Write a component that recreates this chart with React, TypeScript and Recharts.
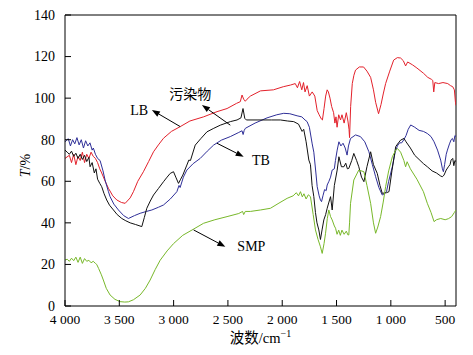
import { LineChart, Line, XAxis, YAxis, ReferenceLine, ReferenceDot } from 'recharts';

type Pt = [number, number];

// wavenumber (cm-1), transmittance (%)
const LB: Pt[] = [
  [4000, 71], [3960, 72.5], [3940, 69], [3920, 73], [3900, 68], [3880, 72], [3860, 70], [3840, 74],
  [3820, 69], [3800, 73], [3780, 71], [3760, 74], [3740, 72], [3720, 71], [3700, 69], [3680, 66],
  [3662, 64], [3630, 60], [3600, 56.6], [3560, 53], [3523, 51], [3480, 49.8], [3446, 49.4], [3400, 52],
  [3370, 55], [3330, 60], [3278, 64.6], [3230, 69.5], [3185, 74.2], [3140, 77.5], [3093, 80.7], [3020, 84],
  [2939, 86.3], [2850, 89], [2724, 91], [2600, 93.5], [2508, 95], [2420, 97.5], [2386, 98.3], [2370, 101.5],
  [2355, 99.5], [2340, 98.5], [2324, 99.5], [2293, 101], [2200, 103.5], [2081, 104], [1990, 105.5],
  [1924, 106.3], [1880, 107], [1860, 105], [1840, 108], [1820, 104], [1804, 107.5], [1790, 103], [1770, 106],
  [1750, 101], [1724, 103], [1700, 101], [1678, 94], [1660, 92], [1640, 90], [1630, 89.5], [1615, 95],
  [1600, 101], [1586, 104], [1575, 103], [1560, 100], [1545, 96], [1527, 93], [1515, 88], [1505, 91],
  [1495, 86], [1480, 92], [1463, 89.5], [1450, 92], [1430, 88], [1410, 93], [1395, 89], [1385, 85],
  [1380, 81], [1370, 96], [1355, 107], [1340, 111], [1325, 113.5], [1290, 115], [1251, 115], [1220, 113],
  [1186, 110], [1160, 104], [1140, 98], [1113, 92.5], [1090, 97], [1070, 102], [1048, 107], [1010, 113],
  [974, 118.3], [940, 119.5], [910, 119.3], [885, 118], [864, 115.5], [845, 117.4], [800, 116], [760, 114.5],
  [700, 112], [660, 110], [625, 109], [614, 108.5], [605, 103], [595, 107.5], [560, 107], [520, 107.5],
  [476, 107], [450, 106], [430, 105.5], [415, 104], [405, 98], [400, 96.5],
];

const TB: Pt[] = [
  [4000, 79], [3970, 80.5], [3950, 77], [3930, 80], [3910, 78], [3890, 81], [3870, 77.5], [3850, 80],
  [3830, 76], [3810, 79.5], [3790, 77], [3770, 78.5], [3750, 75], [3739, 76], [3720, 73], [3700, 71],
  [3677, 70], [3650, 65], [3631, 60.6], [3600, 55], [3585, 52.6], [3550, 49], [3508, 46.2], [3460, 43.5],
  [3416, 42.1], [3360, 43.5], [3308, 44.6], [3250, 45.5], [3200, 46.2], [3140, 47.5], [3093, 48.6],
  [3030, 51.5], [2970, 55], [2950, 58], [2940, 57], [2910, 62], [2878, 65.4], [2820, 68.5], [2755, 71],
  [2690, 74.5], [2632, 77.4], [2560, 79.8], [2478, 81.5], [2400, 83.5], [2370, 84.3], [2360, 82.5],
  [2350, 84.5], [2339, 85.5], [2250, 88], [2140, 90.5], [2050, 92], [1986, 92.7], [1930, 92.5], [1863, 91.5],
  [1820, 91], [1790, 89.5], [1771, 88.7], [1750, 86], [1724, 78], [1709, 74], [1690, 64], [1678, 57.4],
  [1660, 53], [1648, 51], [1638, 50.2], [1625, 53], [1610, 56], [1595, 55.5], [1586, 58.2], [1570, 60],
  [1555, 62], [1540, 65.4], [1520, 66], [1510, 70], [1494, 75], [1478, 79], [1460, 77], [1440, 78.3],
  [1420, 76], [1403, 72.6], [1390, 77], [1371, 80.6], [1325, 82.3], [1280, 81.5], [1240, 79], [1202, 74.2],
  [1170, 68], [1140, 62.2], [1110, 57], [1079, 53.4], [1060, 54], [1040, 55], [1020, 60], [986, 67],
  [960, 74], [940, 77], [920, 78.5], [900, 78.5], [880, 80], [860, 82], [840, 85], [817, 87.1], [780, 86],
  [740, 84.5], [700, 84], [664, 83], [630, 81.5], [602, 79], [570, 75], [541, 70.2], [525, 66], [516, 64.6],
  [505, 68], [490, 73], [479, 75], [460, 78], [445, 80], [433, 80.6], [420, 79], [410, 82], [400, 81.5],
];

const POLLUTANT: Pt[] = [
  [4000, 75], [3980, 74], [3960, 73], [3940, 74.5], [3920, 72], [3900, 73.5], [3880, 71], [3860, 73],
  [3840, 70.5], [3820, 72.5], [3800, 69.5], [3780, 71.5], [3769, 67], [3750, 69], [3730, 64], [3715, 66],
  [3700, 61], [3680, 59], [3662, 57.4], [3640, 54], [3616, 51], [3590, 48.5], [3554, 46.2], [3520, 44],
  [3477, 42.1], [3440, 41], [3400, 40], [3350, 39.2], [3293, 38.2], [3270, 42.5], [3247, 47], [3215, 50.5],
  [3185, 53.4], [3140, 56.5], [3093, 59.8], [3060, 62], [3031, 63.8], [3001, 64.6], [2980, 62], [2955, 59],
  [2935, 61], [2915, 63], [2878, 67.8], [2860, 70.2], [2845, 70], [2801, 77.4], [2750, 80.5], [2693, 83.8],
  [2630, 85.5], [2570, 87], [2478, 88.7], [2416, 89.5], [2380, 90.5], [2361, 95], [2345, 90.3], [2330, 89.5],
  [2232, 89.5], [2100, 89.5], [2017, 89.5], [1950, 89], [1894, 88.7], [1850, 87.5], [1817, 84], [1802, 85],
  [1780, 79], [1755, 70.2], [1740, 68], [1725, 58], [1709, 52.6], [1694, 45], [1680, 40], [1663, 36.6],
  [1648, 32], [1632, 37], [1617, 41.4], [1600, 44], [1586, 47], [1570, 50], [1555, 52.6], [1540, 46.2],
  [1520, 58], [1494, 65.4], [1478, 71.8], [1455, 67], [1432, 67], [1415, 68.7], [1400, 66], [1387, 66.2],
  [1360, 70], [1341, 73.4], [1315, 70], [1295, 67], [1270, 62], [1248, 59.8], [1220, 67], [1186, 74.2],
  [1160, 68], [1125, 63.8], [1100, 58], [1079, 54.2], [1040, 54.5], [1017, 55], [990, 65], [955, 76.7],
  [930, 78.5], [910, 79.8], [879, 80.6], [860, 79], [820, 76], [780, 72.5], [740, 70.5], [700, 68.5],
  [664, 67], [620, 65], [580, 64], [540, 62.5], [525, 62.2], [510, 63], [490, 65.4], [470, 67], [455, 68],
  [445, 70.2], [430, 71], [420, 67.5], [410, 70], [400, 69.5],
];

const SMP: Pt[] = [
  [4000, 22.1], [3980, 22.5], [3960, 21.5], [3940, 23], [3920, 21.8], [3900, 23.5], [3880, 21], [3860, 23.5],
  [3840, 20.5], [3820, 22.8], [3800, 21.5], [3780, 22], [3760, 20.8], [3740, 21.5], [3720, 20.5], [3708, 20],
  [3690, 18], [3665, 15], [3647, 12.5], [3620, 8.5], [3585, 5.3], [3540, 3.2], [3493, 2.1], [3450, 1.9],
  [3416, 2], [3370, 3], [3308, 5.3], [3260, 8.5], [3216, 12.5], [3170, 17.5], [3124, 22], [3060, 26.5],
  [3001, 30], [2916, 34], [2816, 37], [2724, 39.8], [2620, 41.5], [2508, 43], [2400, 44.5], [2365, 45.5],
  [2355, 44], [2340, 45.5], [2293, 45.5], [2200, 46.2], [2109, 47], [2030, 49.5], [1955, 51.8], [1900, 53],
  [1870, 54.5], [1850, 53], [1832, 55], [1815, 52.5], [1800, 54], [1780, 51.5], [1760, 53.5], [1740, 52.6],
  [1715, 44], [1694, 36.6], [1670, 32], [1648, 28.5], [1632, 25.3], [1615, 30], [1601, 35], [1585, 42],
  [1571, 46.2], [1555, 43], [1540, 41.4], [1520, 38.5], [1509, 37.4], [1495, 34.5], [1480, 36.5], [1465, 34],
  [1450, 36.5], [1430, 34.5], [1410, 36], [1395, 34.2], [1387, 34.2], [1380, 40], [1371, 49.4], [1341, 60.6],
  [1295, 65.4], [1248, 64.6], [1220, 58], [1186, 49.4], [1160, 40], [1140, 35], [1120, 38], [1094, 43],
  [1070, 50], [1048, 57.4], [1020, 65], [986, 71.8], [955, 75], [940, 75.8], [910, 74], [880, 70], [864, 67],
  [850, 69.4], [820, 66], [760, 61], [700, 55], [664, 49.4], [630, 45], [602, 40.6], [580, 41.5], [541, 42.1],
  [500, 41.5], [470, 42], [440, 43], [415, 45], [400, 46.2],
];

const X_TICKS = [4000, 3500, 3000, 2500, 2000, 1500, 1000, 500];
const Y_TICKS = [0, 20, 40, 60, 80, 100, 120, 140];

const SERIF = '"Liberation Serif", "Times New Roman", "Noto Sans CJK SC", serif';

const series = [
  { name: 'LB', pts: LB, color: '#e3212b' },
  { name: 'TB', pts: TB, color: '#2f2f98' },
  { name: '污染物', pts: POLLUTANT, color: '#111111' },
  { name: 'SMP', pts: SMP, color: '#78b82a' },
];

// arrows from curve (tail) to label (head), in data coords
const arrows = [
  { from: { x: 2939, y: 86.3 }, to: { x: 3200, y: 94.3 } },
  { from: { x: 2478, y: 87 }, to: { x: 2739, y: 96.7 } },
  { from: { x: 2601, y: 78.3 }, to: { x: 2355, y: 71.8 } },
  { from: { x: 2816, y: 36.6 }, to: { x: 2524, y: 28.5 } },
];

const labels = [
  { text: 'LB', x: 3400, y: 92, anchor: 'start' },
  { text: '污染物', x: 2847, y: 99.6, anchor: 'middle' },
  { text: 'TB', x: 2278, y: 67.8, anchor: 'start' },
  { text: 'SMP', x: 2413, y: 26.5, anchor: 'start' },
];

const fmt = (n: number) =>
  n >= 1000 ? `${Math.floor(n / 1000)}\u2005${String(n % 1000).padStart(3, '0')}` : String(n);

function XTick({ x, y, payload }: any) {
  return (
    <g>
      <line x1={x} y1={y} x2={x} y2={y - 6} stroke="#000" />
      <text x={x} y={y + 18} textAnchor="middle" fontSize={13.5} fontFamily={SERIF} fill="#000">
        {fmt(payload.value)}
      </text>
    </g>
  );
}

function YTick({ x, y, payload }: any) {
  return (
    <g>
      <line x1={x} y1={y} x2={x + 6} y2={y} stroke="#000" />
      <text x={x - 10} y={y} dy="0.35em" textAnchor="end" fontSize={14} fontFamily={SERIF} fill="#000">
        {payload.value}
      </text>
    </g>
  );
}

function YTitle({ viewBox }: any) {
  const cx = viewBox.x + 25;
  const cy = viewBox.y + viewBox.height / 2 + 5;
  return (
    <text x={cx} y={cy} transform={`rotate(-90 ${cx} ${cy})`} textAnchor="middle" dy="0.35em"
      fontSize={14} fontFamily={SERIF} fill="#000">
      <tspan fontStyle="italic">T</tspan>/%
    </text>
  );
}

function XTitle({ viewBox }: any) {
  const cx = viewBox.x + viewBox.width / 2;
  const cy = viewBox.y + 37;
  return (
    <text x={cx} y={cy} textAnchor="middle" fontSize={14.5} fontFamily={SERIF} fill="#000">
      波数/cm<tspan dy={-6} fontSize={10}>−1</tspan>
    </text>
  );
}

function Arrow({ x1, y1, x2, y2 }: any) {
  const ang = Math.atan2(y2 - y1, x2 - x1);
  const len = 8;
  const w = 3;
  const bx = x2 - len * Math.cos(ang);
  const by = y2 - len * Math.sin(ang);
  const px = -Math.sin(ang) * w;
  const py = Math.cos(ang) * w;
  return (
    <g>
      <line x1={x1} y1={y1} x2={bx} y2={by} stroke="#000" strokeWidth={1} />
      <polygon points={`${x2},${y2} ${bx + px},${by + py} ${bx - px},${by - py}`} fill="#000" />
    </g>
  );
}

export default function App() {
  return (
    <div style={{ position: 'absolute', left: 0, top: 0, background: '#fff' }}>
      <LineChart width={473} height={355} margin={{ top: 15, right: 17, left: 0, bottom: 0 }}>
        <XAxis
          type="number"
          dataKey="x"
          domain={[400, 4000]}
          reversed
          allowDataOverflow
          ticks={X_TICKS}
          tick={<XTick />}
          tickLine={false}
          tickSize={0}
          tickMargin={0}
          height={49}
          axisLine={{ stroke: '#000' }}
          label={{ content: <XTitle /> } as any}
        />
        <YAxis
          type="number"
          dataKey="y"
          domain={[0, 140]}
          allowDataOverflow
          ticks={Y_TICKS}
          tick={<YTick />}
          tickLine={false}
          tickSize={0}
          tickMargin={0}
          width={65}
          axisLine={{ stroke: '#000' }}
          label={{ content: <YTitle /> } as any}
        />
        <ReferenceLine y={140} stroke="#000" />
        <ReferenceLine x={400} stroke="#000" />
        {series.map((s) => (
          <Line
            key={s.name}
            data={s.pts.map(([x, y]) => ({ x, y }))}
            dataKey="y"
            type="linear"
            stroke={s.color}
            strokeWidth={1}
            dot={false}
            activeDot={false}
            isAnimationActive={false}
          />
        ))}
        {arrows.map((a, i) => (
          <ReferenceLine key={`arrow-${i}`} segment={[a.from, a.to]} shape={(p: any) => <Arrow {...p} />} />
        ))}
        {labels.map((l) => (
          <ReferenceDot
            key={l.text}
            x={l.x}
            y={l.y}
            r={1}
            shape={(p: any) => (
              <text x={p.cx} y={p.cy} textAnchor={l.anchor} fontSize={14} fontFamily={SERIF} fill="#000">
                {l.text}
              </text>
            )}
          />
        ))}
      </LineChart>
    </div>
  );
}
